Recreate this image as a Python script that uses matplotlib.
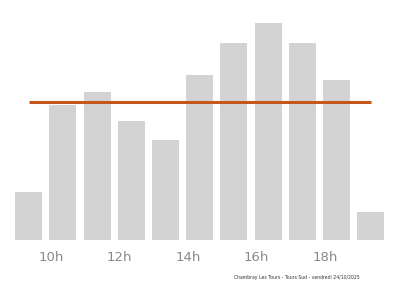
import matplotlib.pyplot as plt
import numpy as np

hours = [9, 10, 11, 12, 13, 14, 15, 16, 17, 18, 19]
affluence = [48, 135, 148, 119, 100, 165, 197, 217, 197, 160, 28]
tick_hours = [10, 12, 14, 16, 18]
tick_labels = ['10h', '12h', '14h', '16h', '18h']
footer = 'Chambray Les Tours - Tours Sud - vendredi 24/10/2025'

fig = plt.figure(figsize=(4, 2.86), dpi=100)
ax = fig.add_axes([0, 46 / 286, 1, 240 / 286])

x = np.array(hours)
ax.bar(x, affluence, width=0.79, color='#d3d3d3', zorder=1)

# ligne de moyenne
moyenne = np.mean(affluence)
ax.plot([x[0], x[-1]], [moyenne, moyenne], color='#c5561c', linewidth=2.2,
        solid_capstyle='butt', zorder=2)

ax.set_xlim(8.16, 19.86)
ax.set_ylim(0, 240)
ax.set_xticks(np.array(tick_hours) - 0.34)
ax.set_xticklabels(tick_labels)
ax.tick_params(axis='x', length=0, pad=8, labelsize=9.5, labelcolor='#888888')
ax.set_yticks([])
for s in ax.spines.values():
    s.set_visible(False)

fig.text(0.7425, 1 - 278 / 286, footer, fontsize=3.3, color='#333333',
         ha='center', va='center')

plt.savefig('out.png', dpi=100)
